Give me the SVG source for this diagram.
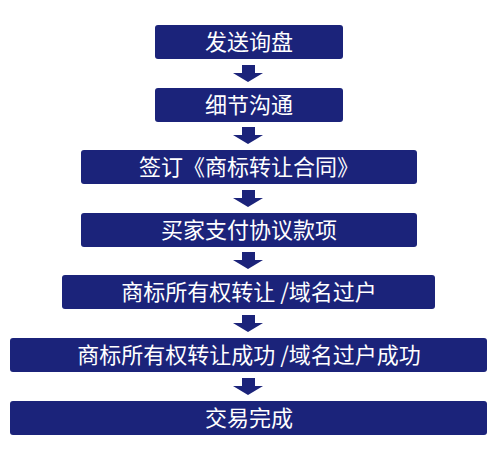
<svg xmlns="http://www.w3.org/2000/svg" width="498" height="453" viewBox="0 0 498 453">
<defs>
<style>
.box{fill:#1b237a;}
.lbl{fill:#ffffff;font-family:"Noto Sans CJK SC","Noto Sans",sans-serif;font-size:22px;text-anchor:middle;}
.arr{fill:#1b237a;}
</style>
<path id="ar" d="M242,0 H255 V8 H263 L248,17 L233,8 H242 Z"/>
</defs>
<rect width="498" height="453" fill="#ffffff"/>
<g id="connectors" class="arr">
<use href="#ar" y="65"/>
<use href="#ar" y="127"/>
<use href="#ar" y="190"/>
<use href="#ar" y="252"/>
<use href="#ar" y="315"/>
<use href="#ar" y="378"/>
</g>
<g id="n1"><rect class="box" x="155" y="25" width="188" height="34" rx="3"/><text class="lbl" x="249" y="50">发送询盘</text></g>
<g id="n2"><rect class="box" x="155" y="88" width="188" height="34" rx="3"/><text class="lbl" x="249" y="113">细节沟通</text></g>
<g id="n3"><rect class="box" x="81" y="150" width="336" height="34" rx="3"/><text class="lbl" x="249" y="175">签订《商标转让合同》</text></g>
<g id="n4"><rect class="box" x="81" y="213" width="336" height="34" rx="3"/><text class="lbl" x="249" y="238">买家支付协议款项</text></g>
<g id="n5"><rect class="box" x="62" y="275" width="373" height="34" rx="3"/><text class="lbl" x="249" y="300">商标所有权转让 /域名过户</text></g>
<g id="n6"><rect class="box" x="10" y="338" width="477" height="34" rx="3"/><text class="lbl" x="249" y="363">商标所有权转让成功 /域名过户成功</text></g>
<g id="n7"><rect class="box" x="10" y="401" width="477" height="34" rx="3"/><text class="lbl" x="249" y="426">交易完成</text></g>
</svg>
